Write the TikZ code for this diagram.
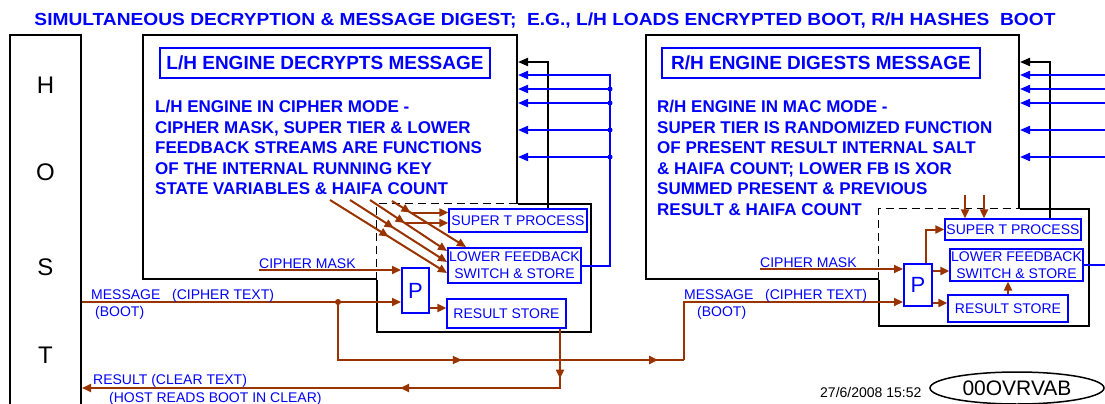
\documentclass[tikz,border=0pt]{standalone}
\usepackage{fontspec}
\setmainfont{Liberation Sans}
\usetikzlibrary{arrows.meta,decorations.markings,calc,shapes.geometric}
\definecolor{hblue}{RGB}{0,0,255}
\definecolor{hbrown}{RGB}{153,51,0}
\begin{document}
\begin{tikzpicture}[x=1pt,y=-1pt,
  tri/.tip={Triangle[length=9pt,width=8pt]},
  bigbox/.style={draw,line width=2pt,inner sep=0pt},
  bx/.style={draw=hblue,line width=1.3pt,inner sep=0pt,text=hblue,align=center,font=\fontsize{14}{17}\selectfont},
  ttl/.style={draw=hblue,line width=1.6pt,inner sep=0pt,text=hblue,font=\bfseries\fontsize{19}{22}\selectfont},
  body/.style={text=hblue,align=left,inner sep=0pt,anchor=north west,font=\bfseries\fontsize{17}{20.5}\selectfont},
  lbl/.style={text=hblue,inner sep=0pt,anchor=base west,font=\fontsize{14}{17}\selectfont},
  brn/.style={draw=hbrown,line width=2pt},
  brnarr/.style={brn,-tri},
  midarr/.style={postaction={decorate,decoration={markings,mark=at position #1 with {\arrow{tri}}}}},
  blu/.style={draw=hblue,line width=2pt},
  bluarr/.style={blu,-{Triangle[length=10pt,width=8pt]}},
  blkarr/.style={draw=black,line width=2pt,-{Triangle[length=10pt,width=8pt]}},
  subedge/.style={line width=2pt},
  subdash/.style={line width=1.2pt,dash pattern=on 8pt off 5pt}]
\useasboundingbox (0,0) rectangle (1105,404);
\node[text=hblue,font=\bfseries\fontsize{17.5}{20}\selectfont] (title) at (545,21)
  {\scalebox{1.095}[1]{SIMULTANEOUS DECRYPTION \& MESSAGE DIGEST;\ \ E.G., L/H LOADS ENCRYPTED BOOT, R/H HASHES\ \ BOOT}};

\node[bigbox,minimum width=71pt,minimum height=385pt] (host) at (45.5,227.5) {};
\foreach \c/\y in {H/85,O/172,S/267,T/355}
  \node[font=\fontsize{24}{24}\selectfont] (host\c) at (45.5,\y) {\c};

% left engine
\node[bigbox,minimum width=374pt,minimum height=244pt] (lhbox) at (330,157) {};
\node[ttl,minimum width=330pt,minimum height=30pt] (lhtitle) at (325,63) {L/H ENGINE DECRYPTS MESSAGE};
\node[body] (lhtext) at (155,100) {L/H ENGINE IN CIPHER MODE -\\CIPHER MASK, SUPER TIER \& LOWER\\FEEDBACK STREAMS ARE FUNCTIONS\\OF THE INTERNAL RUNNING KEY\\STATE VARIABLES \& HAIFA COUNT};
\node[fill=white,inner sep=0pt,minimum width=214pt,minimum height=128pt] (lhsub) at (484,268) {};
\draw[subedge] (lhbox.east |- lhsub.north) -| (lhsub.south east) -| (lhsub.west |- lhbox.south);
\draw[subdash] (lhsub.west |- lhbox.south) |- (lhbox.east |- lhsub.north);
\node[bx,minimum width=138pt,minimum height=23pt] (lhsuper) at (518,220.5) {SUPER T PROCESS};
\node[bx,minimum width=133pt,minimum height=35pt] (lhlow) at (514.5,265.5) {LOWER FEEDBACK\\SWITCH \& STORE};
\node[bx,minimum width=119pt,minimum height=29pt] (lhres) at (506.5,313.5) {RESULT STORE};
\node[bx,line width=2pt,minimum width=27pt,minimum height=45pt,font=\fontsize{22}{22}\selectfont] (lhP) at (415.5,290.5) {P};

\coordinate (lblk) at (548,62);
\draw[blkarr] (lhsuper.north -| lblk) |- (lhbox.east |- lblk);
\coordinate (lbus) at (610,75);
\draw[bluarr] (lhlow.east) -| (lbus) -- (lbus -| lhbox.east);
\foreach \y in {89,103,130,157} {
  \draw[bluarr] (lbus |- 0,\y) -- (lhbox.east |- 0,\y);
  \fill[hblue] (lbus |- 0,\y) circle (2.5pt);
}

\foreach \i/\sx/\sy/\ex/\ey/\m in {1/330/200/447/273/0.5,2/350/200/447/262/0.45,3/370/200/447/251/0.45,4/392/201/466/247/0.25} {
  \coordinate (ds\i) at (\sx,\sy);
  \coordinate (de\i) at (\ex,\ey);
  \draw[brnarr,midarr=\m] (ds\i) -- (de\i);
}
\coordinate (dm3) at ($(ds3)!0.45!(de3)$);
\coordinate (dm4) at ($(ds4)!0.25!(de4)$);
\draw[brnarr] (dm3) -- (dm3 -| lhsuper.west);
\draw[brnarr] (dm4) -- (dm4 -| lhsuper.west);

\coordinate (lcm) at (259,270);
\draw[brnarr] (lcm) -- (lcm -| lhP.west);
\node[lbl] (lcmtxt) at (259,268) {CIPHER MASK};
\coordinate (lmsg) at (host.east |- 0,302);
\draw[brnarr] (lmsg) -- (lmsg -| lhP.west);
\node[lbl] (lmsgtxt) at (91,299) {MESSAGE\ \ \ (CIPHER TEXT)};
\node[lbl] (lboot) at (95,316) {(BOOT)};
\draw[brnarr] (lhP.east |- 0,308) -- (lhres.west |- 0,308);

\coordinate (lres) at (lhres.south -| 560,0);
\coordinate (lret) at (560,388);
\draw[brnarr,midarr=0.093,midarr=0.408] (lres) -- (lret) -- (lret -| host.east);
\node[lbl] (restxt) at (93,384) {RESULT (CLEAR TEXT)};
\node[lbl] (readtxt) at (109,402) {(HOST READS BOOT IN CLEAR)};

\coordinate (ldot) at (338,302);
\fill[hbrown] (ldot) circle (3pt);
\coordinate (rjog) at (684,360);
\draw[brn,midarr=0.45,midarr=0.936] (ldot) |- (rjog);

% right engine
\node[bigbox,minimum width=373pt,minimum height=244pt] (rhbox) at (832.5,157) {};
\node[ttl,minimum width=318pt,minimum height=30pt] (rhtitle) at (821,63) {R/H ENGINE DIGESTS MESSAGE};
\node[body] (rhtext) at (657,100) {R/H ENGINE IN MAC MODE -\\SUPER TIER IS RANDOMIZED FUNCTION\\OF PRESENT RESULT INTERNAL SALT\\\& HAIFA COUNT; LOWER FB IS XOR\\SUMMED PRESENT \& PREVIOUS\\RESULT \& HAIFA COUNT};
\node[fill=white,inner sep=0pt,minimum width=210pt,minimum height=117pt] (rhsub) at (984,267.5) {};
\draw[subedge] (rhbox.east |- rhsub.north) -| (rhsub.south east) -| (rhsub.west |- rhbox.south);
\draw[subdash] (rhsub.west |- rhbox.south) |- (rhbox.east |- rhsub.north);
\node[bx,minimum width=136pt,minimum height=21pt] (rhsuper) at (1013,229.5) {SUPER T PROCESS};
\node[bx,minimum width=133pt,minimum height=32pt] (rhlow) at (1016.5,265) {LOWER FEEDBACK\\SWITCH \& STORE};
\node[bx,minimum width=120pt,minimum height=27pt] (rhres) at (1008,308.5) {RESULT STORE};
\node[bx,line width=2pt,minimum width=28pt,minimum height=42pt,font=\fontsize{22}{22}\selectfont] (rhP) at (918,285) {P};

\coordinate (rblk) at (1050,62);
\draw[blkarr] (rhsuper.north -| rblk) |- (rhbox.east |- rblk);
\coordinate (redge) at (1105,75);
\draw[blu] (rhlow.east) -- (rhlow.east -| redge);
\foreach \y in {75,89,103,130,157}
  \draw[bluarr] (redge |- 0,\y) -- (rhbox.east |- 0,\y);

\draw[brnarr] (rjog) |- (rhP.west |- 0,302);
\coordinate (rcm) at (760,269);
\draw[brnarr] (rcm) -- (rcm -| rhP.west);
\node[lbl] (rcmtxt) at (760,267) {CIPHER MASK};
\node[lbl] (rmsgtxt) at (684,299) {MESSAGE\ \ \ (CIPHER TEXT)};
\node[lbl] (rboot) at (697,316) {(BOOT)};
\coordinate (rpt) at (926,0);
\draw[brnarr] (rhP.north -| rpt) |- (rhsuper.west);
\draw[brnarr] (rhP.east |- 0,271) -- (rhlow.west |- 0,271);
\draw[brnarr] (rhP.east |- 0,303) -- (rhres.west |- 0,303);
\draw[brnarr] (rhres.north) -- (rhres.north |- rhlow.south);
\coordinate (rs1) at (965,195);
\coordinate (rs2) at (984,195);
\draw[brnarr] (rs1) -- (rs1 |- rhsuper.north);
\draw[brnarr] (rs2) -- (rs2 |- rhsuper.north);

\node[font=\fontsize{14}{14}\selectfont,anchor=base west,inner sep=0pt] (date) at (820,397) {27/6/2008 15:52};
\node[draw,ellipse,line width=1.5pt,minimum width=174pt,minimum height=32pt,inner sep=0pt,font=\fontsize{21}{21}\selectfont] (ref) at (1017,388) {00OVRVAB};
\end{tikzpicture}
\end{document}
